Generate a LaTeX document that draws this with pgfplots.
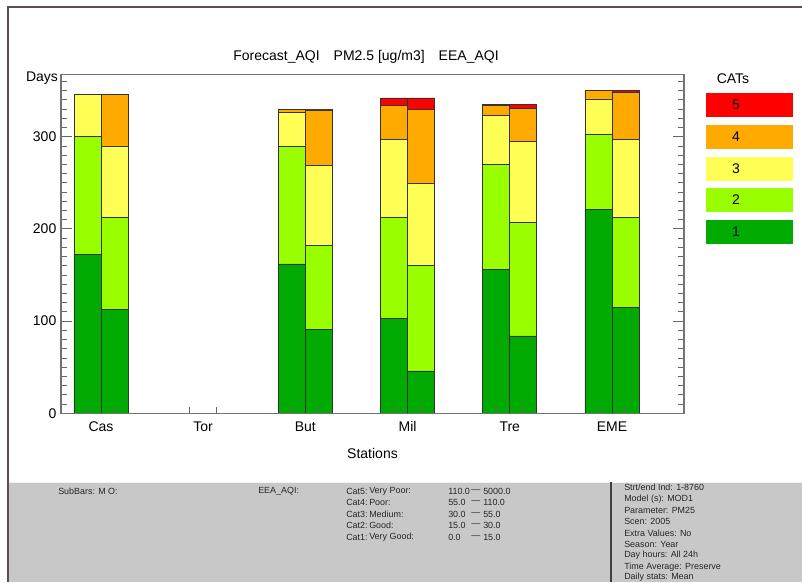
\documentclass[border=0pt]{standalone}
\usepackage{pgfplots}
\pgfplotsset{compat=1.18}
\usepackage{pgfplotstable}
\usepackage{fontspec}
\setmainfont{Liberation Sans}
\definecolor{cA}{HTML}{00AA00}
\definecolor{cB}{HTML}{99FF00}
\definecolor{cC}{HTML}{FFFF55}
\definecolor{cD}{HTML}{FFAA00}
\definecolor{cE}{HTML}{FF0000}
\definecolor{panel}{HTML}{C8C8C8}
\definecolor{framec}{HTML}{5A5050}
% sub-bar positions: M at station-0.132, O at station+0.132
\pgfplotstableread{
x      c1  c2  c3  c4  c5
-0.132 172 128 46  0   0
0.132  113 100 77  56  0
1.868  162 128 36  4   0
2.132  91  91  87  60  1
2.868  103 110 84  37  8
3.132  46  114 89  81  12
3.868  156 114 53  11  1
4.132  84  123 88  36  4
4.868  221 82  38  9   0
5.132  115 97  85  51  2
}\aqi
\newcommand{\mainfs}{\fontsize{10.5}{12}\selectfont}
\newcommand{\smallfs}{\fontsize{6.7}{8}\selectfont}
\begin{document}
\begin{tikzpicture}[x=0.75pt,y=0.75pt]
\useasboundingbox (0,0) rectangle (802,-582);
\fill[white] (0,0) rectangle (802,-582);
\fill[panel] (8,-482) rectangle (802,-582);
\draw[white!90!gray, line width=0.6pt] (8,-482.5) -- (802,-482.5);
\draw[framec, line width=1.5pt] (8,-582) -- (8,-7) -- (802,-7);
\draw[black!75, line width=1.5pt] (611,-482) -- (611,-582);
\begin{axis}[
  at={(45.75pt,-309.98pt)}, anchor=south west,
  scale only axis, width=467.25pt, height=253.8pt,
  xmin=-0.391, xmax=5.705, ymin=0, ymax=367,
  ybar stacked, bar width=20.25pt,
  axis on top,
  axis line style={draw=gray!90!black, line width=0.8pt},
  xtick={0,1,2,3,4,5},
  xticklabels={Cas,Tor,But,Mil,Tre,EME},
  major x tick style={draw=none},
  minor xtick={-0.132,0.132,0.868,1.132,1.868,2.132,2.868,3.132,3.868,4.132,4.868,5.132},
  xtick pos=left,
  ytick={0,100,200,300},
  minor ytick={10,20,...,360},
  major tick length=8pt, minor tick length=4.5pt,
  tick style={draw=gray!80!black, line width=0.6pt},
  tick align=inside,
  /pgf/number format/assume math mode=true,
  tick label style={font=\mainfs},
  xticklabel style={text height=7.6pt, text depth=0pt, yshift=-2.5pt},
  xlabel={Stations}, xlabel style={font=\mainfs, yshift=-6pt},
  every axis plot/.append style={draw=black!80, line width=0.5pt},
]
\addplot[fill=cA] table[x=x,y=c1]{\aqi};
\addplot[fill=cB] table[x=x,y=c2]{\aqi};
\addplot[fill=cC] table[x=x,y=c3]{\aqi};
\addplot[fill=cD] table[x=x,y=c4]{\aqi};
\addplot[fill=cE] table[x=x,y=c5]{\aqi};
\end{axis}
\node[font=\mainfs] at (366,-57) {Forecast\_AQI\hspace{1em}PM2.5 [ug/m3]\hspace{1em}EEA\_AQI};
\node[font=\mainfs] at (42,-78) {Days};
\node[font=\mainfs] at (733,-79) {CATs};
% category key
\foreach \c/\t/\y in {cE/5/93, cD/4/125, cC/3/157, cB/2/188, cA/1/220}{
  \fill[\c] (706,-\y) rectangle (793,-\y-24);
  \node[font=\mainfs] at (736,-\y-12) {\t};
}
% footer panel texts
\begin{scope}[every node/.style={font=\smallfs, text=black!85, anchor=west, inner sep=0pt}]
\node at (58,-491) {SubBars: M O:};
\node at (258,-491) {EEA\_AQI:};
\foreach \y/\a/\b/\lo/\hi in {491/Cat5:/Very Poor:/110.0/5000.0, 502.5/Cat4:/Poor:/55.0/110.0, 514/Cat3:/Medium:/30.0/55.0, 525.5/Cat2:/Good:/15.0/30.0, 537/Cat1:/Very Good:/0.0/15.0}{
  \node at (346,-\y) {\a};
  \node at (369,-\y) {\b};
  \node at (448,-\y) {\lo};
  \node at (471,-\y) {\textemdash};
  \node at (483,-\y) {\hi};
}
\node at (624,-487.5) {Strt/end Ind: 1-8760};
\node at (624,-499) {Model (s): MOD1};
\node at (624,-510.3) {Parameter: PM25};
\node at (624,-521.6) {Scen: 2005};
\node at (624,-532.9) {Extra Values: No};
\node at (624,-544.2) {Season: Year};
\node at (624,-555.5) {Day hours: All 24h};
\node at (624,-566.8) {Time Average: Preserve};
\node at (624,-577.6) {Daily stats: Mean};
\end{scope}
\end{tikzpicture}
\end{document}
